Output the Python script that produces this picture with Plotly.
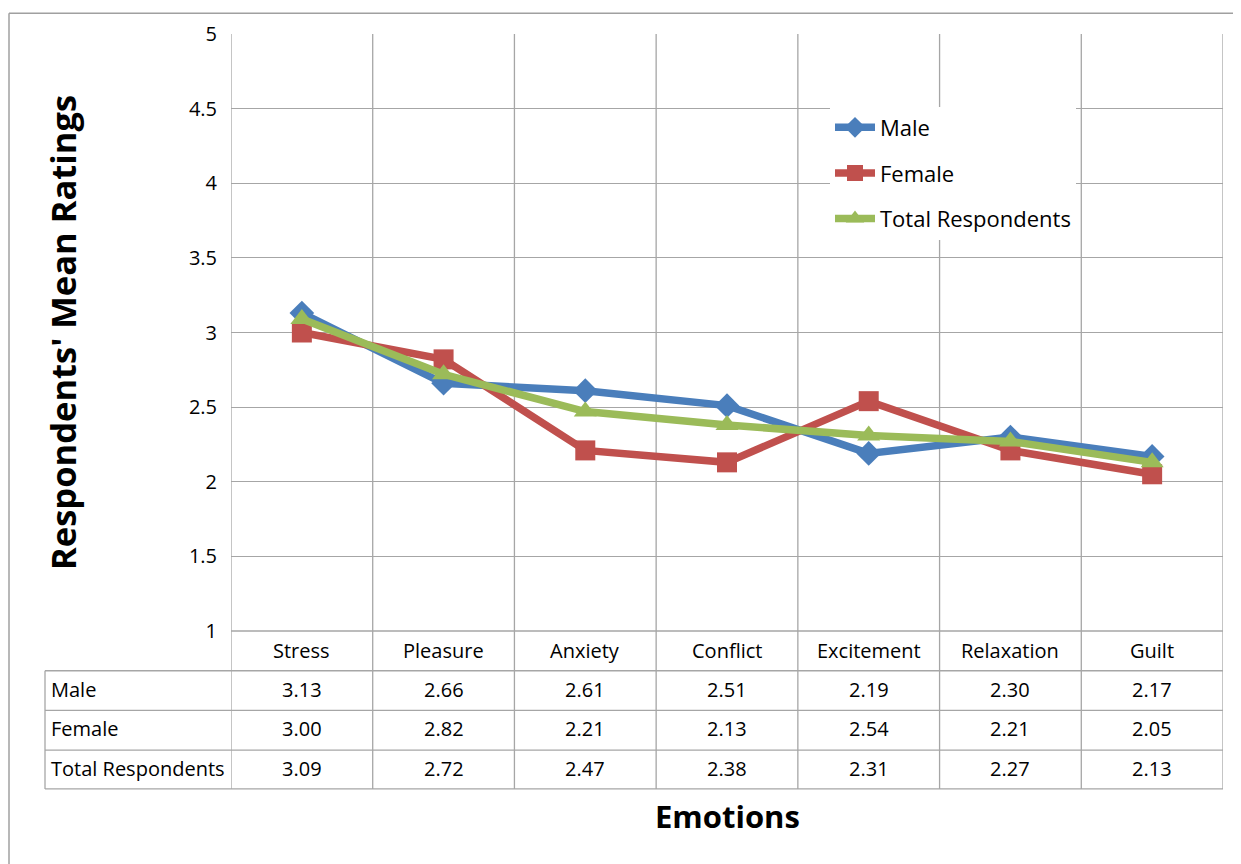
import plotly.graph_objects as go

categories = ["Stress", "Pleasure", "Anxiety", "Conflict", "Excitement", "Relaxation", "Guilt"]
male = [3.13, 2.66, 2.61, 2.51, 2.19, 2.30, 2.17]
female = [3.00, 2.82, 2.21, 2.13, 2.54, 2.21, 2.05]
total = [3.09, 2.72, 2.47, 2.38, 2.31, 2.27, 2.13]
series_names = ["Male", "Female", "Total Respondents"]
y_ticks = [1, 1.5, 2, 2.5, 3, 3.5, 4, 4.5, 5]

colors = ["#4a7ebb", "#c0504d", "#9bbb59"]
symbols = ["diamond", "square", "triangle-up"]
FONT = "Open Sans"
GRID = "#a6a6a6"

W, H = 1241, 864
OFF = 8  # page body margin
# plot area in screen coords
L, R, T, B = 231, 1223, 30, 631
pw, ph = R - L, B - T


def px_x(p):
    return (p - L) / pw


def px_y(p):
    return (B - p) / ph


xs = list(range(len(categories)))
fig = go.Figure()
for name, vals, c, s in zip(series_names, [male, female, total], colors, symbols):
    fig.add_trace(go.Scatter(
        x=xs, y=vals, name=name, mode="lines+markers", legendgroup=name,
        line=dict(color=c, width=7.5),
        marker=dict(color=c, symbol=s, size=20 if s != "diamond" else 19),
    ))

shapes = []
row_bounds = [631, 671, 711, 751, 790]
for i in range(len(categories) + 1):
    shapes.append(dict(type="line", xref="x", yref="paper", x0=i - 0.5, x1=i - 0.5,
                       y0=px_y(row_bounds[-1]), y1=1, line=dict(color=GRID, width=1.3),
                       layer="below"))
for j, rb in enumerate(row_bounds):
    x0 = px_x(45) if j >= 1 else 0
    shapes.append(dict(type="line", xref="paper", yref="paper", x0=x0, x1=1,
                       y0=px_y(rb), y1=px_y(rb), line=dict(color=GRID, width=1.3)))
shapes.append(dict(type="line", xref="paper", yref="paper", x0=px_x(45), x1=px_x(45),
                   y0=px_y(671), y1=px_y(790), line=dict(color=GRID, width=1.3)))
# outer chart border (left and top), drawn at the figure's edge
shapes.append(dict(type="line", xref="paper", yref="paper", x0=px_x(OFF + 1), x1=px_x(OFF + 1),
                   y0=px_y(875), y1=px_y(OFF + 1), line=dict(color="#a0a0a0", width=1.5)))
shapes.append(dict(type="line", xref="paper", yref="paper", x0=px_x(OFF + 1), x1=px_x(1255),
                   y0=px_y(OFF + 1), y1=px_y(OFF + 1), line=dict(color="#a0a0a0", width=1.5)))

annotations = []
tf = dict(family=FONT, size=20, color="#000000")
for i, c in enumerate(categories):
    annotations.append(dict(x=i, y=px_y(651), xref="x", yref="paper", text=c,
                            showarrow=False, font=tf, xanchor="center", yanchor="middle"))
rows_y = [690, 729, 769]
for name, vals, ry in zip(series_names, [male, female, total], rows_y):
    annotations.append(dict(x=px_x(49), y=px_y(ry), xref="paper", yref="paper", text=name,
                            showarrow=False, font=tf, xanchor="left", yanchor="middle"))
    for i, v in enumerate(vals):
        annotations.append(dict(x=i, y=px_y(ry), xref="x", yref="paper", text=f"{v:.2f}",
                                showarrow=False, font=tf, xanchor="center", yanchor="middle"))
annotations.append(dict(x=px_x(63), y=px_y(331), xref="paper", yref="paper",
                        text="<b>Respondents' Mean Ratings</b>", textangle=-90,
                        showarrow=False, font=dict(family=FONT, size=34.5, color="#000000"),
                        xanchor="center", yanchor="middle"))
annotations.append(dict(x=px_x(727), y=px_y(817), xref="paper", yref="paper",
                        text="<b>Emotions</b>", showarrow=False,
                        font=dict(family=FONT, size=31, color="#000000"),
                        xanchor="center", yanchor="middle"))

fig.update_layout(
    width=W, height=H,
    margin=dict(l=L - OFF, r=W - (R - OFF), t=T - OFF, b=H - (B - OFF), pad=0),
    paper_bgcolor="white", plot_bgcolor="white",
    font=dict(family=FONT, size=20, color="#000000"),
    xaxis=dict(range=[-0.5, len(categories) - 0.5], showgrid=False, zeroline=False,
               showticklabels=False, showline=False, fixedrange=True),
    yaxis=dict(range=[1, 5], tickvals=y_ticks, ticktext=[f"{v:g}" for v in y_ticks],
               showgrid=True, gridcolor=GRID, gridwidth=1.3, zeroline=False,
               showline=False, ticks="outside", ticklen=9, tickcolor="rgba(0,0,0,0)",
               tickfont=dict(family=FONT, size=20, color="#000000")),
    legend=dict(x=px_x(830), y=px_y(103), xanchor="left", yanchor="top",
                bgcolor="white", borderwidth=0, tracegroupgap=14,
                font=dict(family=FONT, size=22, color="#000000"),
                itemwidth=40),
    showlegend=True,
    shapes=shapes, annotations=annotations,
)

fig.write_html("out.html")
